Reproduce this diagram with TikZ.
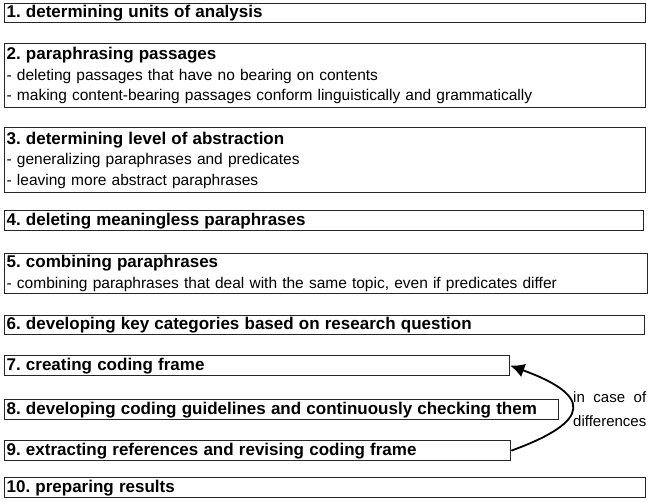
\documentclass[tikz,border=0pt]{standalone}
\usepackage{fontspec}
\setmainfont{Liberation Sans}
\usepackage{tikz}
\usetikzlibrary{arrows.meta}
\frenchspacing
\tikzset{step box/.style={draw=black!85, line width=1.3pt, rectangle, anchor=north west, inner xsep=2pt, inner ysep=0pt, align=left, text width=#1, font=\fontsize{15.5}{20.5}\selectfont}}
\def\ttl#1{{\bfseries\fontsize{17}{20.5}\selectfont #1}}

\begin{document}
\begin{tikzpicture}[auto]
      \useasboundingbox (0,0) rectangle (650pt,-502pt);

      %1-2
      \node[step box=637pt, minimum height=19pt] (s1) at (4pt, -3pt) {\ttl{1. determining units of analysis}};
      \node[step box=637pt, minimum height=64pt] (s2) at (4pt, -43pt) {\ttl{2. paraphrasing passages}\\- deleting passages that have no bearing on contents\\- making content-bearing passages conform linguistically and grammatically};

      %3-4
      \node[step box=637pt, minimum height=65pt] (s3) at (4pt, -127pt) {\ttl{3. determining level of abstraction}\\- generalizing paraphrases and predicates\\- leaving more abstract paraphrases};
      \node[step box=635pt, minimum height=20pt] (s4) at (4pt, -210pt) {\ttl{4. deleting meaningless paraphrases}};

      %5-6
      \node[step box=639pt, minimum height=40pt] (s5) at (4pt, -253pt) {\ttl{5. combining paraphrases}\\- combining paraphrases that deal with the same topic, even if predicates differ};
      \node[step box=636pt, minimum height=19pt] (s6) at (4pt, -315pt) {\ttl{6. developing key categories based on research question}};

      %7-10
      \node[step box=501pt, minimum height=20pt] (s7) at (4pt, -355pt) {\ttl{7. creating coding frame}};
      \node[step box=550pt, minimum height=20pt] (s8) at (4pt, -399pt) {\ttl{8. developing coding guidelines and continuously checking them}};
      \node[step box=502pt, minimum height=20pt] (s9) at (4pt, -440pt) {\ttl{9. extracting references and revising coding frame}};
      \node[step box=637pt, minimum height=20pt] (s10) at (4pt, -477pt) {\ttl{10. preparing results}};

      %9->7
      \draw[line width=1.8pt, -{Latex[length=14pt,width=14pt]}] (s9.east) to[out=20, in=-20, looseness=2.6] (s7.east);
      \node[anchor=north west, inner sep=0pt, align=left, text width=73pt, font=\fontsize{15}{24}\selectfont] (diff) at (573pt, -391pt) {in\hfill case\hfill of\\differences};

    \end{tikzpicture}
\end{document}
